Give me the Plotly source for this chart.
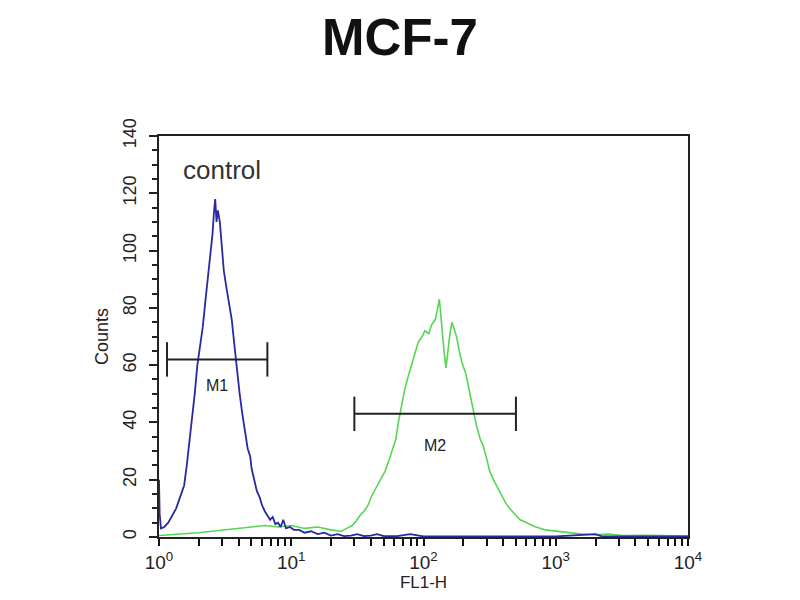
import numpy as np
import plotly.graph_objects as go

control_log = [0.00, 0.005, 0.015, 0.04, 0.07, 0.10, 0.13, 0.16, 0.19, 0.21, 0.235, 0.255,
               0.27, 0.29, 0.31, 0.33, 0.35, 0.37, 0.39, 0.405, 0.415, 0.425, 0.435, 0.445,
               0.46, 0.475, 0.49, 0.51, 0.53, 0.55, 0.57, 0.59, 0.61, 0.63, 0.65, 0.67,
               0.69, 0.70, 0.72, 0.74, 0.76, 0.78, 0.80, 0.82, 0.84, 0.86, 0.88, 0.90,
               0.92, 0.94, 0.96, 0.99, 1.02, 1.06, 1.10, 1.15, 1.20, 1.25, 1.30, 1.35,
               1.40, 1.45, 1.50, 1.55, 1.60, 1.65, 1.70, 1.80, 1.90, 2.00, 2.50, 3.00,
               3.30, 3.35, 4.00]
control_counts = [20, 8, 3, 3.5, 5, 7.5, 10, 14, 18, 25, 35, 44,
                  50, 60, 67, 73, 82, 90, 99, 106, 113, 118, 110, 114,
                  110, 100, 93, 87, 81, 76, 67, 58, 50, 43, 37, 31,
                  28, 24, 20, 16, 14, 11, 9, 7.5, 6, 7, 4.5, 5,
                  3.5, 6, 3, 3.5, 2.5, 2.5, 1.5, 2, 1, 1.5, 0.5, 1,
                  0.3, 0.5, 1, 0.3, 0.5, 1, 0.3, 0.3, 1, 0.2, 0.2, 0.2,
                  1, 0.2, 0.2]

sample_log = [0.0, 0.1, 0.2, 0.3, 0.4, 0.5, 0.6, 0.7, 0.8, 0.9, 1.0, 1.1, 1.2, 1.3,
              1.38, 1.42, 1.46, 1.49, 1.52, 1.55, 1.58, 1.61, 1.64, 1.67, 1.71, 1.74,
              1.77, 1.79, 1.81, 1.84, 1.86, 1.89, 1.91, 1.94, 1.96, 1.99, 2.01, 2.04,
              2.06, 2.09, 2.11, 2.12, 2.13, 2.14, 2.155, 2.17, 2.185, 2.20, 2.215, 2.23,
              2.25, 2.27, 2.29, 2.32, 2.35, 2.37, 2.40, 2.43, 2.45, 2.48, 2.50, 2.54,
              2.58, 2.62, 2.65, 2.69, 2.73, 2.78, 2.85, 2.92, 3.00, 3.10, 3.20, 3.30,
              3.40, 3.50, 3.70, 3.90, 4.00]
sample_counts = [0.5, 0.8, 1, 1.5, 2, 2.5, 3, 3.5, 4, 3.5, 4, 3, 3.5, 2.5,
                 2, 3, 4, 5.5, 7.5, 9, 11, 14.5, 17, 20, 23, 27,
                 31, 34, 40, 48, 52, 57, 60, 65, 68, 70, 72, 71,
                 74, 76, 80, 83, 78, 72, 65, 59, 66, 71, 75, 73,
                 70, 65, 61, 57, 50, 45, 39, 34, 32, 27, 23, 19,
                 15.5, 12, 10, 8, 6, 5, 3.5, 2.5, 2, 1.5, 1, 0.8,
                 1, 0.5, 0.6, 0.4, 0.3]

# marker gates M1 / M2
gate_names = ["M1", "M2"]
gate_lo = [1.15, 30]
gate_hi = [6.6, 500]
gate_level = [62, 43]
gate_label_level = [53, 32]
cap = 6

decades = [1, 10, 100, 1000, 10000]
decade_labels = ["10<sup>0</sup>", "10<sup>1</sup>", "10<sup>2</sup>", "10<sup>3</sup>", "10<sup>4</sup>"]
minor_x = [d * k for d in decades[:-1] for k in range(2, 10)]

# all x ticks: decades get labels, the 2..9 steps stay blank
x_tickvals = decades + minor_x
x_ticktext = decade_labels + [""] * len(minor_x)

fig = go.Figure()

fig.add_trace(go.Scatter(x=10 ** np.array(sample_log), y=sample_counts, mode="lines",
                         line=dict(color="#55d655", width=1.6), showlegend=False))
fig.add_trace(go.Scatter(x=10 ** np.array(control_log), y=control_counts, mode="lines",
                         line=dict(color="#2a2aa0", width=1.8), showlegend=False))

for name, lo, hi, lev, lab in zip(gate_names, gate_lo, gate_hi, gate_level, gate_label_level):
    fig.add_trace(go.Scatter(
        x=[lo, lo, None, lo, hi, None, hi, hi],
        y=[lev - cap, lev + cap, None, lev, lev, None, lev - cap, lev + cap],
        mode="lines", line=dict(color="#222222", width=2), showlegend=False))
    fig.add_annotation(x=np.log10(np.sqrt(lo * hi)), y=lab, text=name, showarrow=False,
                       font=dict(size=16, color="#222222"))

fig.add_annotation(x=np.log10(3.0), y=128, text="control", showarrow=False,
                   font=dict(size=26, color="#333333"))

fig.update_layout(
    width=800, height=600,
    margin=dict(l=151, r=120, t=128, b=71),
    paper_bgcolor="white", plot_bgcolor="white",
    font=dict(family="Liberation Sans, Arial", color="#222222"),
    title=dict(text="<b>MCF-7</b>", x=0.49, xanchor="center", y=0.952, yanchor="middle",
               font=dict(size=51, color="#111111")),
)

fig.update_xaxes(
    type="log", range=[0, 4],
    tickmode="array", tickvals=x_tickvals, ticktext=x_ticktext,
    ticks="outside", ticklen=7, tickwidth=2, tickcolor="#111111",
    showline=True, linecolor="#222222", linewidth=2, mirror=True,
    showgrid=False, zeroline=False,
    tickfont=dict(size=19),
    title=dict(text="FL1-H", font=dict(size=17), standoff=0),
)
fig.update_yaxes(
    range=[0, 140], dtick=20,
    ticks="outside", ticklen=8, tickwidth=2, tickcolor="#222222",
    minor=dict(ticks="outside", ticklen=5, tickwidth=2, tickcolor="#222222", dtick=5, showgrid=False),
    showline=True, linecolor="#222222", linewidth=2, mirror=True,
    showgrid=False, zeroline=False,
    tickangle=-90, tickfont=dict(size=18), ticklabelstandoff=6,
    title=dict(text="Counts", font=dict(size=18), standoff=6),
)

fig.write_html("out.html")
